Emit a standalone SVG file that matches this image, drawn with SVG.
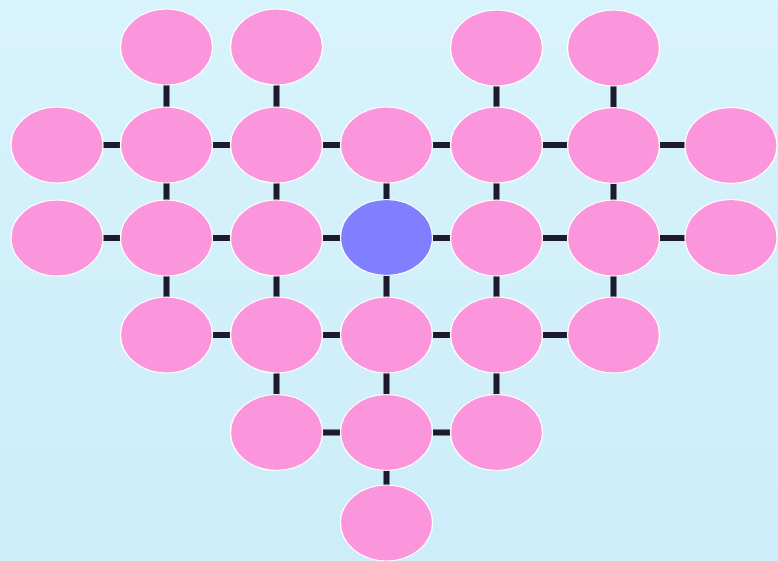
<svg xmlns="http://www.w3.org/2000/svg" width="778" height="561" viewBox="0 0 778 561">
<defs>
<linearGradient id="bg" x1="0" y1="0" x2="0" y2="1">
<stop offset="0" stop-color="#d8f3fc"/>
<stop offset="1" stop-color="#ccedf9"/>
</linearGradient>
</defs>
<style>
.e{stroke:#1c1a2c;stroke-width:6;fill:none}
.n{fill:#fb96dc;stroke:#ffffff;stroke-width:1.2}
.c{fill:#7f7fff;stroke:#ffffff;stroke-width:1.2}
</style>
<rect width="778" height="561" fill="url(#bg)"/>
<g id="connectors">
<line class="e" x1="166.5" y1="47" x2="166.5" y2="335"/>
<line class="e" x1="276.5" y1="47" x2="276.5" y2="432.5"/>
<line class="e" x1="386.5" y1="145" x2="386.5" y2="523"/>
<line class="e" x1="496.5" y1="47" x2="496.5" y2="432.5"/>
<line class="e" x1="613.5" y1="47" x2="613.5" y2="335"/>
<line class="e" x1="57" y1="145" x2="731" y2="145"/>
<line class="e" x1="57" y1="238" x2="731" y2="238"/>
<line class="e" x1="166.5" y1="335" x2="613.5" y2="335"/>
<line class="e" x1="276.5" y1="432.5" x2="496.5" y2="432.5"/>
</g>
<g id="n0a"><ellipse class="n" cx="166.5" cy="47" rx="46" ry="38"/></g>
<g id="n0b"><ellipse class="n" cx="276.5" cy="47" rx="46" ry="38"/></g>
<g id="n0c"><ellipse class="n" cx="496.5" cy="48" rx="46" ry="38"/></g>
<g id="n0d"><ellipse class="n" cx="613.5" cy="48" rx="46" ry="38"/></g>
<g id="n1a"><ellipse class="n" cx="57" cy="145" rx="46" ry="38"/></g>
<g id="n1b"><ellipse class="n" cx="166.5" cy="145" rx="46" ry="38"/></g>
<g id="n1c"><ellipse class="n" cx="276.5" cy="145" rx="46" ry="38"/></g>
<g id="n1d"><ellipse class="n" cx="386.5" cy="145" rx="46" ry="38"/></g>
<g id="n1e"><ellipse class="n" cx="496.5" cy="145" rx="46" ry="38"/></g>
<g id="n1f"><ellipse class="n" cx="613.5" cy="145.5" rx="46" ry="38"/></g>
<g id="n1g"><ellipse class="n" cx="731" cy="145.5" rx="46" ry="38"/></g>
<g id="n2a"><ellipse class="n" cx="57" cy="238" rx="46" ry="38"/></g>
<g id="n2b"><ellipse class="n" cx="166.5" cy="238" rx="46" ry="38"/></g>
<g id="n2c"><ellipse class="n" cx="276.5" cy="238" rx="46" ry="38"/></g>
<g id="center"><ellipse class="c" cx="386.5" cy="237.5" rx="46" ry="38"/></g>
<g id="n2e"><ellipse class="n" cx="496.5" cy="238" rx="46" ry="38"/></g>
<g id="n2f"><ellipse class="n" cx="613.5" cy="238" rx="46" ry="38"/></g>
<g id="n2g"><ellipse class="n" cx="731" cy="237.5" rx="46" ry="38"/></g>
<g id="n3a"><ellipse class="n" cx="166.5" cy="335" rx="46" ry="38"/></g>
<g id="n3b"><ellipse class="n" cx="276.5" cy="335" rx="46" ry="38"/></g>
<g id="n3c"><ellipse class="n" cx="386.5" cy="335" rx="46" ry="38"/></g>
<g id="n3d"><ellipse class="n" cx="496.5" cy="335" rx="46" ry="38"/></g>
<g id="n3e"><ellipse class="n" cx="613.5" cy="335" rx="46" ry="38"/></g>
<g id="n4a"><ellipse class="n" cx="276.5" cy="432.5" rx="46" ry="38"/></g>
<g id="n4b"><ellipse class="n" cx="386.5" cy="432.5" rx="46" ry="38"/></g>
<g id="n4c"><ellipse class="n" cx="496.5" cy="432.5" rx="46" ry="38"/></g>
<g id="n5"><ellipse class="n" cx="386.5" cy="523" rx="46" ry="38"/></g>
</svg>
